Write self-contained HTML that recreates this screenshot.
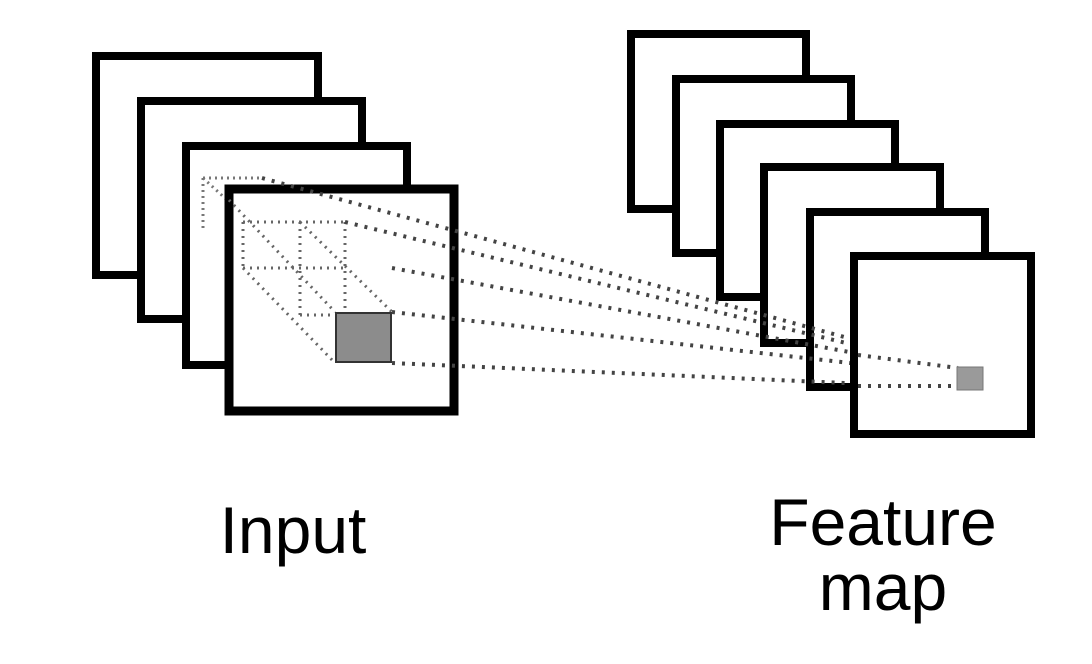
<!DOCTYPE html>
<html><head><meta charset="utf-8"><style>
html,body{margin:0;padding:0;background:#fff;}
body{width:1092px;height:664px;overflow:hidden;position:relative;font-family:"Liberation Sans",Arial,sans-serif;}
svg{position:absolute;left:0;top:0;}
</style></head><body>
<svg width="1092" height="664" viewBox="0 0 1092 664">
<g fill="#fff" stroke="#000" stroke-width="8">
<rect x="96" y="56" width="222" height="219"/>
<rect x="141" y="101" width="221" height="218"/>
<rect x="186" y="146" width="221" height="219"/>
</g>
<g stroke="#777" stroke-width="3" stroke-dasharray="2,4" fill="none">
<line x1="203" y1="178" x2="262" y2="178"/>
<line x1="203" y1="178" x2="203" y2="232"/>
<line x1="203" y1="178" x2="262" y2="232"/>
</g>
<rect x="229" y="189" width="225" height="222" fill="#fff" stroke="#000" stroke-width="9"/>
<g stroke="#666" stroke-width="3" stroke-dasharray="2,5" fill="none">
<line x1="243" y1="222" x2="345" y2="222"/>
<line x1="243" y1="268" x2="345" y2="268"/>
<line x1="300" y1="315" x2="335" y2="315"/>
<line x1="243" y1="222" x2="243" y2="268"/>
<line x1="300" y1="222" x2="300" y2="315"/>
<line x1="345" y1="222" x2="345" y2="312"/>
<line x1="229" y1="200" x2="335" y2="312"/>
<line x1="243" y1="268" x2="335" y2="363"/>
<line x1="300" y1="222" x2="392" y2="312"/>
</g>
<rect x="336" y="313" width="55" height="49" fill="#8c8c8c" stroke="#333" stroke-width="2"/>
<g fill="#fff" stroke="#000" stroke-width="8">
<rect x="631" y="34" width="175" height="175"/>
<rect x="676" y="79" width="175" height="174"/>
<rect x="720" y="124" width="175" height="173"/>
<rect x="764" y="167" width="176" height="176"/>
<rect x="810" y="212" width="175" height="175"/>
</g>
<g stroke="#444" stroke-width="4" stroke-dasharray="3,7" fill="none">
<line x1="262" y1="178" x2="958" y2="368"/>
<line x1="345" y1="222" x2="958" y2="370"/>
<line x1="392" y1="268" x2="958" y2="372"/>
<line x1="392" y1="312" x2="958" y2="375"/>
<line x1="392" y1="363" x2="958" y2="388"/>
</g>
<rect x="854" y="256" width="177" height="178" fill="#fff" stroke="#000" stroke-width="8"/>
<g stroke="#444" stroke-width="4" stroke-dasharray="3,7" fill="none">
<line x1="858" y1="355" x2="958" y2="368"/>
<line x1="858" y1="386" x2="958" y2="386"/>
</g>
<rect x="957" y="367" width="26" height="23" fill="#9a9a9a" stroke="#777" stroke-width="1"/>
<text x="293" y="553" font-size="66" text-anchor="middle" fill="#000">Input</text>
<text x="883" y="545" font-size="66" text-anchor="middle" fill="#000">Feature</text>
<text x="883" y="610" font-size="66" text-anchor="middle" fill="#000">map</text>
</svg>
</body></html>
